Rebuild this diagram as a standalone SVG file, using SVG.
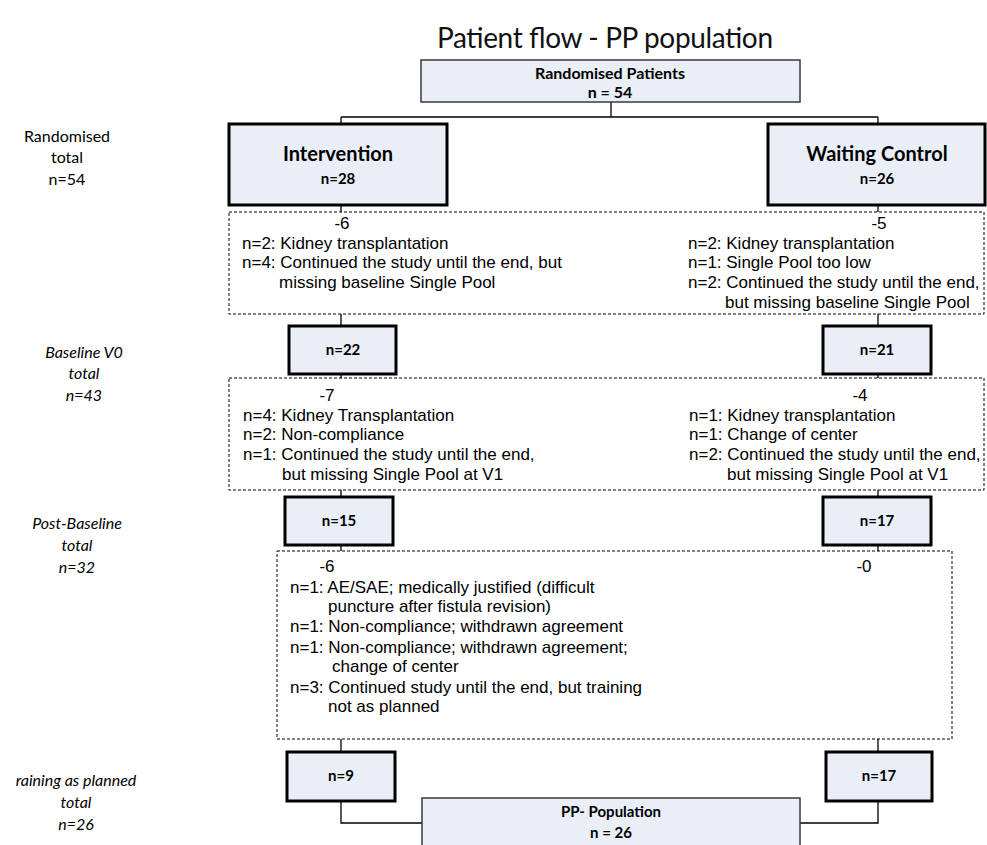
<svg xmlns="http://www.w3.org/2000/svg" width="987" height="845" viewBox="0 0 987 845">
<style>
.thin{fill:#E9EEF7;stroke:#3a3a3a;stroke-width:1.5}
.thick{fill:#E9EEF7;stroke:#000;stroke-width:3}
.dash{fill:none;stroke:#000;stroke-width:1;stroke-dasharray:3,2}
.con{fill:none;stroke:#000;stroke-width:1.3}
.bx{font-family:Lato,"Open Sans",sans-serif;font-weight:bold;fill:#000;text-anchor:middle}
.lbl{font-family:Lato,"Open Sans",sans-serif;font-size:16px;fill:#000;text-anchor:middle}
.it{font-style:italic}
.ar{font-family:"Liberation Sans",Arial,sans-serif;font-size:17px;fill:#000}
.mid{text-anchor:middle}
</style>
<rect width="987" height="845" fill="#fff"/>
<text x="605" y="48" font-family="Lato,'Open Sans',sans-serif" font-size="28" fill="#111" text-anchor="middle" textLength="336">Patient flow - PP population</text>

<g id="labels">
<text class="lbl" x="67" y="142">Randomised</text>
<text class="lbl" x="67" y="163">total</text>
<text class="lbl" x="67" y="185">n=54</text>
<text class="lbl it" x="84" y="358">Baseline V0</text>
<text class="lbl it" x="84" y="379">total</text>
<text class="lbl it" x="84" y="401">n=43</text>
<text class="lbl it" x="77" y="529">Post-Baseline</text>
<text class="lbl it" x="77" y="551">total</text>
<text class="lbl it" x="77" y="573">n=32</text>
<text class="lbl it" x="76" y="786">raining as planned</text>
<text class="lbl it" x="76" y="808">total</text>
<text class="lbl it" x="76" y="830">n=26</text>
</g>

<g id="connectors">
<path class="con" d="M611 102V117M341 117H878M341 117V124M878 117V124"/>
<path class="con" d="M341 205V212M878 205V212M341 314V326M878 314V326M341 374V378M878 374V378M341 490V497M878 490V497M341 545V551M878 545V551M341 739V752M878 739V752"/>
<path class="con" d="M341 801V823H422M878 801V823H800"/>
</g>

<g id="randomised">
<rect class="thin" x="421" y="60" width="379" height="42"/>
<text class="bx" x="610" y="79" font-size="16">Randomised Patients</text>
<text class="bx" x="610" y="98" font-size="16">n = 54</text>
</g>

<g id="intervention">
<rect class="thick" x="229" y="124" width="218" height="81"/>
<text class="bx" x="338" y="161" font-size="20">Intervention</text>
<text class="bx" x="338" y="184" font-size="15">n=28</text>
</g>

<g id="waiting">
<rect class="thick" x="768" y="124" width="217" height="81"/>
<text class="bx" x="877" y="161" font-size="20">Waiting Control</text>
<text class="bx" x="877" y="184" font-size="15">n=26</text>
</g>

<g id="dropout1">
<rect class="dash" x="229" y="212" width="755" height="102"/>
<text class="ar mid" x="342" y="229">-6</text>
<text class="ar" x="242" y="249">n=2: Kidney transplantation</text>
<text class="ar" x="242" y="268">n=4: Continued the study until the end, but</text>
<text class="ar" x="279" y="288">missing baseline Single Pool</text>
<text class="ar mid" x="879" y="229">-5</text>
<text class="ar" x="688" y="249">n=2: Kidney transplantation</text>
<text class="ar" x="688" y="268">n=1: Single Pool too low</text>
<text class="ar" x="688" y="288">n=2: Continued the study until the end,</text>
<text class="ar" x="725" y="308">but missing baseline Single Pool</text>
</g>

<g id="baseline-int">
<rect class="thick" x="289" y="326" width="107" height="48"/>
<text class="bx" x="343" y="355" font-size="15">n=22</text>
</g>
<g id="baseline-ctl">
<rect class="thick" x="823" y="326" width="108" height="48"/>
<text class="bx" x="877" y="355" font-size="15">n=21</text>
</g>

<g id="dropout2">
<rect class="dash" x="229" y="378" width="755" height="112"/>
<text class="ar mid" x="327" y="401">-7</text>
<text class="ar" x="243" y="421">n=4: Kidney Transplantation</text>
<text class="ar" x="243" y="440">n=2: Non-compliance</text>
<text class="ar" x="243" y="460">n=1: Continued the study until the end,</text>
<text class="ar" x="282" y="480">but missing Single Pool at V1</text>
<text class="ar mid" x="860" y="401">-4</text>
<text class="ar" x="689" y="421">n=1: Kidney transplantation</text>
<text class="ar" x="689" y="440">n=1: Change of center</text>
<text class="ar" x="689" y="460">n=2: Continued the study until the end,</text>
<text class="ar" x="727" y="480">but missing Single Pool at V1</text>
</g>

<g id="post-int">
<rect class="thick" x="285" y="497" width="108" height="48"/>
<text class="bx" x="339" y="526" font-size="15">n=15</text>
</g>
<g id="post-ctl">
<rect class="thick" x="823" y="497" width="108" height="48"/>
<text class="bx" x="877" y="526" font-size="15">n=17</text>
</g>

<g id="dropout3">
<rect class="dash" x="277" y="551" width="675" height="188"/>
<text class="ar mid" x="327" y="572">-6</text>
<text class="ar" x="290" y="593">n=1: AE/SAE; medically justified (difficult</text>
<text class="ar" x="328" y="612">puncture after fistula revision)</text>
<text class="ar" x="290" y="632">n=1: Non-compliance; withdrawn agreement</text>
<text class="ar" x="290" y="653">n=1: Non-compliance; withdrawn agreement;</text>
<text class="ar" x="332" y="672">change of center</text>
<text class="ar" x="290" y="693">n=3: Continued study until the end, but training</text>
<text class="ar" x="328" y="712">not as planned</text>
<text class="ar mid" x="864" y="572">-0</text>
</g>

<g id="planned-int">
<rect class="thick" x="287" y="752" width="108" height="49"/>
<text class="bx" x="341" y="781" font-size="15">n=9</text>
</g>
<g id="planned-ctl">
<rect class="thick" x="826" y="752" width="106" height="49"/>
<text class="bx" x="879" y="781" font-size="15">n=17</text>
</g>

<g id="pp-population">
<rect class="thin" x="422" y="798" width="378" height="60"/>
<text class="bx" x="611" y="817" font-size="15">PP- Population</text>
<text class="bx" x="611" y="838" font-size="15">n = 26</text>
</g>
</svg>
